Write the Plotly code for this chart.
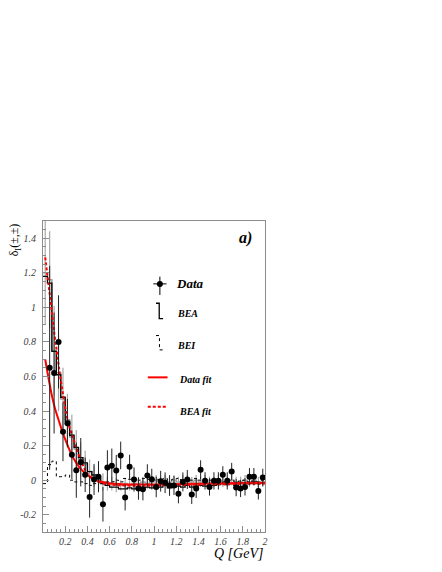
import numpy as np
import plotly.graph_objects as go

# histogram bins: 50 bins of 0.04 GeV from 0 to 2
bin_edges = np.round(np.arange(0, 2.0001, 0.04), 2)

bea_hist = [
    1.18, 1.14, 0.745, 0.61, 0.48, 0.34, 0.26, 0.19, 0.13, 0.10,
    0.05, 0.03, 0.01, -0.02, -0.03, -0.04, -0.04, -0.05, -0.05, -0.045,
    -0.05, -0.04, -0.045, -0.04, -0.045, -0.035, -0.04, -0.03, -0.045, -0.04,
    -0.035, -0.04, -0.03, -0.04, -0.035, -0.03, -0.035, -0.03, -0.03, -0.025,
    -0.02, -0.025, -0.02, -0.03, -0.02, -0.015, -0.02, -0.01, -0.02, -0.015,
]
gray_hist = [
    1.20, 1.16, 0.75, 0.62, 0.47, 0.35, 0.25, 0.18, 0.12, 0.09,
    0.05, 0.02, 0.0, -0.01, -0.02, -0.02, -0.03, -0.03, -0.02, -0.03,
    -0.02, -0.02, -0.01, -0.02, -0.01, 0.0, -0.01, 0.0, -0.01, 0.0,
    -0.01, 0.0, 0.0, -0.01, 0.0, -0.01, 0.0, -0.01, -0.01, 0.0,
    -0.01, -0.01, 0.0, -0.01, -0.01, 0.0, -0.01, 0.0, -0.01, -0.01,
]
gray_err = [
    0.30, 0.28, 0.26, 0.22, 0.18, 0.15, 0.13, 0.11, 0.10, 0.08,
    0.07, 0.06, 0.05, 0.05, 0.04, 0.04, 0.04, 0.03, 0.03, 0.03,
    0.03, 0.03, 0.03, 0.03, 0.03, 0.03, 0.03, 0.03, 0.03, 0.03,
    0.03, 0.03, 0.03, 0.03, 0.03, 0.03, 0.03, 0.03, 0.03, 0.03,
    0.03, 0.03, 0.03, 0.03, 0.03, 0.03, 0.03, 0.03, 0.03, 0.03,
]
bei_hist = [
    -0.02, 0.09, 0.11, 0.02, 0.02, 0.03, 0.0, -0.01, -0.01, -0.02,
    -0.03, -0.02, -0.01, -0.02, -0.01, -0.01, 0.0, -0.01, 0.01, 0.005,
    0.01, 0.0, 0.01, 0.005, 0.0, 0.005, 0.0, 0.01, 0.0, 0.005,
    0.01, 0.0, 0.005, 0.0, 0.01, 0.0, -0.005, 0.0, -0.005, 0.0,
    -0.01, -0.005, 0.0, -0.01, -0.005, 0.0, -0.01, -0.005, -0.01, 0.0,
]

# data points (bin centres 0.06 ... 1.98)
data_q = [
    0.06, 0.10, 0.14, 0.18, 0.22, 0.26, 0.30, 0.34, 0.38, 0.42,
    0.46, 0.50, 0.54, 0.58, 0.62, 0.66, 0.70, 0.74, 0.78, 0.82,
    0.86, 0.90, 0.94, 0.98, 1.02, 1.06, 1.10, 1.14, 1.18, 1.22,
    1.26, 1.30, 1.34, 1.38, 1.42, 1.46, 1.50, 1.54, 1.58, 1.62,
    1.66, 1.70, 1.74, 1.78, 1.82, 1.86, 1.90, 1.94, 1.98,
]
data_val = [
    0.65, 0.62, 0.80, 0.28, 0.33, 0.147, 0.058, 0.104, 0.031, -0.097,
    0.004, 0.02, -0.14, 0.073, 0.083, 0.056, 0.143, -0.10, 0.077, 0.004,
    -0.048, -0.052, 0.027, 0.006, -0.039, -0.006, -0.015, -0.031, -0.031, -0.079,
    -0.01, 0.004, -0.083, -0.048, 0.06, -0.004, -0.039, -0.004, -0.004, 0.031,
    -0.004, 0.05, -0.043, -0.048, -0.039, 0.02, 0.02, -0.062, 0.016,
]
data_err = [
    0.59, 0.35, 0.27, 0.17, 0.14, 0.14, 0.16, 0.14, 0.10, 0.12,
    0.09, 0.09, 0.10, 0.10, 0.10, 0.09, 0.08, 0.075, 0.07, 0.07,
    0.065, 0.065, 0.065, 0.06, 0.06, 0.06, 0.06, 0.06, 0.055, 0.055,
    0.055, 0.055, 0.055, 0.055, 0.055, 0.05, 0.05, 0.05, 0.05, 0.05,
    0.05, 0.05, 0.05, 0.05, 0.05, 0.05, 0.05, 0.05, 0.05,
]

# fit curves
data_fit_q = [0.02, 0.05, 0.08, 0.11, 0.14, 0.17, 0.21, 0.26, 0.30, 0.35, 0.40,
              0.44, 0.50, 0.60, 0.70, 0.85, 1.0, 1.25, 1.5, 1.75, 2.0]
data_fit_val = [0.70, 0.59, 0.49, 0.41, 0.35, 0.29, 0.22, 0.145, 0.10, 0.058, 0.03,
                0.012, -0.005, -0.018, -0.023, -0.025, -0.025, -0.022, -0.02, -0.017, -0.015]
bea_fit_q = [0.02, 0.05, 0.075, 0.10, 0.13, 0.155, 0.185, 0.215, 0.25, 0.29, 0.35,
             0.41, 0.50, 0.60, 0.70, 0.85, 1.0, 1.25, 1.5, 1.75, 2.0]
bea_fit_val = [1.29, 1.13, 1.0, 0.86, 0.72, 0.60, 0.48, 0.37, 0.28, 0.21, 0.10,
               0.03, -0.01, -0.025, -0.03, -0.032, -0.03, -0.028, -0.025, -0.022, -0.02]

x_tickvals = [0.2, 0.4, 0.6, 0.8, 1, 1.2, 1.4, 1.6, 1.8, 2]
x_ticktext = ["0.2", "0.4", "0.6", "0.8", "1", "1.2", "1.4", "1.6", "1.8", "2"]
y_tickvals = [-0.2, 0, 0.2, 0.4, 0.6, 0.8, 1, 1.2, 1.4]
y_ticktext = ["-0.2", "0", "0.2", "0.4", "0.6", "0.8", "1", "1.2", "1.4"]

SERIF = "Liberation Serif"
bin_centres = (bin_edges[:-1] + bin_edges[1:]) / 2


def step(vals):
    return list(bin_edges), list(vals) + [vals[-1]]


fig = go.Figure()

gx, gy = step(gray_hist)
fig.add_trace(go.Scatter(x=gx, y=gy, mode="lines", line_shape="hv",
                         line=dict(color="#a0a0a0", width=1.5), hoverinfo="skip"))
fig.add_trace(go.Scatter(
    x=bin_centres, y=gray_hist, mode="markers", marker=dict(size=1, color="#a0a0a0"),
    error_y=dict(type="data", array=gray_err, width=0, thickness=1.2, color="#a8a8a8"),
    hoverinfo="skip",
))
bx, by = step(bea_hist)
fig.add_trace(go.Scatter(x=bx, y=by, mode="lines", line_shape="hv",
                         line=dict(color="black", width=1.3), name="BEA"))
ix, iy = step(bei_hist)
fig.add_trace(go.Scatter(x=ix, y=iy, mode="lines", line_shape="hv",
                         line=dict(color="black", width=1, dash="dot"), name="BEI"))

fig.add_trace(go.Scatter(x=data_fit_q, y=data_fit_val, mode="lines", line_shape="spline",
                         line=dict(color="#ff0000", width=2), name="Data fit"))
fig.add_trace(go.Scatter(x=bea_fit_q, y=bea_fit_val, mode="lines", line_shape="spline",
                         line=dict(color="#ff0000", width=2, dash="3px,2px"), name="BEA fit"))

fig.add_trace(go.Scatter(
    x=data_q, y=data_val, mode="markers", name="Data",
    marker=dict(symbol="circle", size=6, color="black"),
    error_y=dict(type="data", array=data_err, width=0, thickness=1, color="#222222"),
))

# hand-drawn legend (ROOT-style, no box)
legend_shapes = [
    dict(type="line", x0=1.053, x1=1.053, y0=1.072, y1=1.178, line=dict(color="black", width=1)),
    dict(type="line", x0=0.994, x1=1.113, y0=1.136, y1=1.136, line=dict(color="black", width=1)),
    dict(type="path", path="M 1.018 1.024 L 1.047 1.024 L 1.047 0.935 L 1.082 0.935",
         line=dict(color="black", width=1.3)),
    dict(type="path", path="M 1.018 0.837 L 1.049 0.837 L 1.049 0.754 L 1.082 0.754",
         line=dict(color="black", width=1, dash="dot")),
    dict(type="line", x0=0.944, x1=1.122, y0=0.595, y1=0.595, line=dict(color="#ff0000", width=2)),
    dict(type="line", x0=0.944, x1=1.122, y0=0.425, y1=0.425,
         line=dict(color="#ff0000", width=2, dash="3px,2px")),
]
for s in legend_shapes:
    s.update(xref="x", yref="y")
fig.add_trace(go.Scatter(x=[1.053], y=[1.136], mode="markers",
                         marker=dict(size=6, color="black"), hoverinfo="skip"))

bi = dict(style="italic", weight="bold", family=SERIF, color="black")
annotations = [
    dict(x=1.18, y=1.136, text="Data", font=dict(size=13, **bi)),
    dict(x=1.19, y=0.966, text="BEA", font=dict(size=10, **bi)),
    dict(x=1.19, y=0.777, text="BEI", font=dict(size=10, **bi)),
    dict(x=1.204, y=0.58, text="Data fit", font=dict(size=10, **bi)),
    dict(x=1.204, y=0.396, text="BEA fit", font=dict(size=10, **bi)),
    dict(x=1.82, y=1.403, text="a)", font=dict(size=16, **bi), xanchor="center"),
]
for a in annotations:
    a.setdefault("xanchor", "left")
    a.update(xref="x", yref="y", yanchor="middle", showarrow=False)

annotations.append(dict(
    xref="paper", yref="paper", x=-0.127, y=1.0, xanchor="center", yanchor="top",
    text="δ<sub>I</sub>(±,±)", textangle=-90, showarrow=False,
    font=dict(size=12, family=SERIF, color="black"),
))
annotations.append(dict(
    xref="paper", yref="paper", x=1.0, y=-0.068, xanchor="right", yanchor="middle",
    text="Q [GeV]", showarrow=False,
    font=dict(size=14, family=SERIF, style="italic", color="black"),
))

axis_common = dict(
    showgrid=False, zeroline=False, showline=True, mirror=True,
    linecolor="#8c8c8c", linewidth=1,
    ticks="inside", ticklen=6, tickcolor="#8c8c8c",
    tickfont=dict(family=SERIF, size=10, style="italic", color="#404040"),
    tickmode="array",
)

# the page body keeps its default 8px margin, so the figure is sized to fit
fig.update_layout(
    width=434, height=564,
    margin=dict(l=32.5, r=176.5, t=213, b=40),
    plot_bgcolor="white", paper_bgcolor="white",
    showlegend=False,
    shapes=legend_shapes,
    annotations=annotations,
    xaxis=dict(range=[0, 2], tickvals=x_tickvals, ticktext=x_ticktext,
               minor=dict(dtick=0.04, tick0=0, ticks="inside", ticklen=3,
                          tickcolor="#8c8c8c"),
               **axis_common),
    yaxis=dict(range=[-0.3, 1.5], tickvals=y_tickvals, ticktext=y_ticktext,
               minor=dict(dtick=0.05, tick0=0, ticks="inside", ticklen=3,
                          tickcolor="#8c8c8c"),
               ticklabelstandoff=4,
               **axis_common),
)

fig.write_html("out.html")
